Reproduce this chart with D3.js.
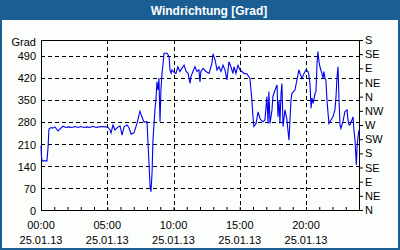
<!DOCTYPE html>
<html><head><meta charset="utf-8">
<script src="https://cdn.jsdelivr.net/npm/d3@7"></script>
<style>
body{margin:0;background:#fff}
svg{display:block}
text{font-family:"Liberation Sans",Arial,sans-serif;font-size:11px;fill:#000}
</style>
</head><body>
<svg id="c" width="400" height="250"></svg>
<script>
const chartTitle = "Windrichtung [Grad]";
const yUnit = "Grad";
// time of day in minutes since 00:00 on 25.01.13
const minutes = [0,2,5,27,32,36,45,54,63,77,86,100,113,127,140,154,168,181,195,208,222,235,249,263,276,290,303,312,317,326,335,349,358,367,376,389,398,408,421,435,448,457,466,480,489,494,498,503,507,516,521,525,530,534,539,543,548,552,557,571,580,584,589,593,602,611,620,629,638,648,657,666,675,679,688,697,706,715,720,724,734,747,761,774,779,788,797,806,815,824,833,842,851,860,869,874,883,892,901,910,919,933,946,955,960,964,974,983,992,996,1005,1014,1023,1028,1032,1037,1046,1050,1060,1069,1073,1078,1082,1087,1091,1096,1105,1114,1118,1123,1127,1132,1136,1150,1159,1168,1173,1182,1191,1200,1209,1213,1218,1223,1227,1232,1241,1245,1250,1254,1259,1263,1272,1277,1281,1286,1290,1295,1300,1304,1313,1322,1331,1336,1340,1345,1349,1354,1358,1367,1376,1386,1390,1395,1399,1408,1413,1417,1422,1426,1428,1431,1435,1440];
// wind direction in degrees
const values = [204,171,156,156,200,257,262,260,264,251,258,266,262,264,262,265,262,265,262,264,262,266,262,264,265,264,263,255,245,270,254,264,267,238,264,270,262,241,245,276,314,296,280,280,149,74,58,120,222,318,356,407,381,419,280,381,434,460,498,498,487,445,434,445,437,434,455,440,450,460,440,434,402,424,440,455,440,445,407,440,450,440,434,466,496,478,445,455,440,460,445,413,471,455,434,455,434,460,445,440,434,432,418,349,296,265,275,312,290,286,280,286,360,275,376,275,318,360,381,397,296,349,275,370,402,265,318,286,254,222,280,349,370,381,413,445,434,418,434,445,440,429,402,323,356,339,370,376,466,503,471,455,434,418,440,418,413,349,307,275,286,296,318,360,418,455,360,270,259,280,312,318,286,270,270,286,296,254,222,169,143,197,229,254];

const yTicks = [0,70,140,210,280,350,420,490];
const dirTicks = [0,45,90,135,180,225,270,315,360,405,450,495,540];
const dirLabels = ["N","NE","E","SE","S","SW","W","NW","N","NE","E","SE","S"];
const xMajor = [0,300,600,900,1200];
const xTimeLabels = ["00:00","05:00","10:00","15:00","20:00"];
const xDateLabels = ["25.01.13","25.01.13","25.01.13","25.01.13","25.01.13"];
const xMinor = [0,60,120,180,240,300,360,420,480,540,600,660,720,780,840,900,960,1020,1080,1140,1200,1260,1320,1380,1440];

const svg = d3.select("#c");
const L = 41, R = 359, T = 40, B = 210;
const x = d3.scaleLinear().domain([0,1440]).range([L,R]);
const y = d3.scaleLinear().domain([0,540]).range([B,T]);

// panel
svg.append("rect").attr("x",0).attr("y",0).attr("width",400).attr("height",250).attr("fill","#1b5e93");
svg.append("rect").attr("x",2).attr("y",20).attr("width",396).attr("height",228).attr("fill","#fcfefc");
svg.append("text").attr("x",209).attr("y",15).attr("text-anchor","middle")
  .style("font-weight","bold").style("font-size","12px").style("fill","#fff").text(chartTitle);

// grid
const grid = svg.append("g");
grid.selectAll("line.h").data(yTicks.filter(d=>d>0)).join("line")
  .attr("x1",L).attr("x2",R).attr("y1",d=>Math.round(y(d))+0.5).attr("y2",d=>Math.round(y(d))+0.5)
  .attr("stroke","#000").attr("stroke-dasharray","4,3");
grid.selectAll("line.v").data(xMajor.filter(d=>d>0)).join("line")
  .attr("y1",T).attr("y2",B).attr("x1",d=>Math.round(x(d))+0.5).attr("x2",d=>Math.round(x(d))+0.5)
  .attr("stroke","#000").attr("stroke-dasharray","4,3");

// minor hour ticks on the bottom axis (pointing up)
svg.append("g").attr("transform",`translate(0,${B})`)
  .call(d3.axisBottom(x).tickValues(xMinor).tickSize(-3).tickSizeOuter(0).tickFormat(""))
  .call(g=>g.select(".domain").remove())
  .selectAll("line").attr("stroke","#000");

// frame
svg.append("rect").attr("x",L+0.5).attr("y",T+0.5).attr("width",R-L).attr("height",B-T)
  .attr("fill","none").attr("stroke","#000");

// left labels
svg.append("g").selectAll("text").data(yTicks).join("text")
  .attr("x",36).attr("y",d=>y(d)).attr("dy","0.42em").attr("text-anchor","end").text(d=>d);
svg.append("text").attr("x",36).attr("y",46).attr("text-anchor","end").text(yUnit);

// right direction axis
const yr = svg.append("g").attr("transform",`translate(${R},0)`)
  .call(d3.axisRight(y).tickValues(dirTicks).tickSize(4).tickSizeOuter(0).tickPadding(2)
    .tickFormat((d,i)=>dirLabels[i]));
yr.select(".domain").attr("stroke","#000");
yr.selectAll("text").style("font-family","'Liberation Sans',Arial,sans-serif").style("font-size","11px").attr("fill","#000");

// bottom labels
const xl = svg.append("g");
xl.selectAll("text.t").data(xMajor).join("text").attr("class","t")
  .attr("x",d=>x(d)).attr("y",229).attr("text-anchor","middle").text((d,i)=>xTimeLabels[i]);
xl.selectAll("text.d").data(xMajor).join("text").attr("class","d")
  .attr("x",d=>x(d)).attr("y",244).attr("text-anchor","middle").text((d,i)=>xDateLabels[i]);

// data line
const line = d3.line().x((d,i)=>x(minutes[i])).y(d=>y(d));
svg.append("path").datum(values).attr("d",line)
  .attr("fill","none").attr("stroke","#0000f0").attr("stroke-width",1.1);
</script>
</body></html>
